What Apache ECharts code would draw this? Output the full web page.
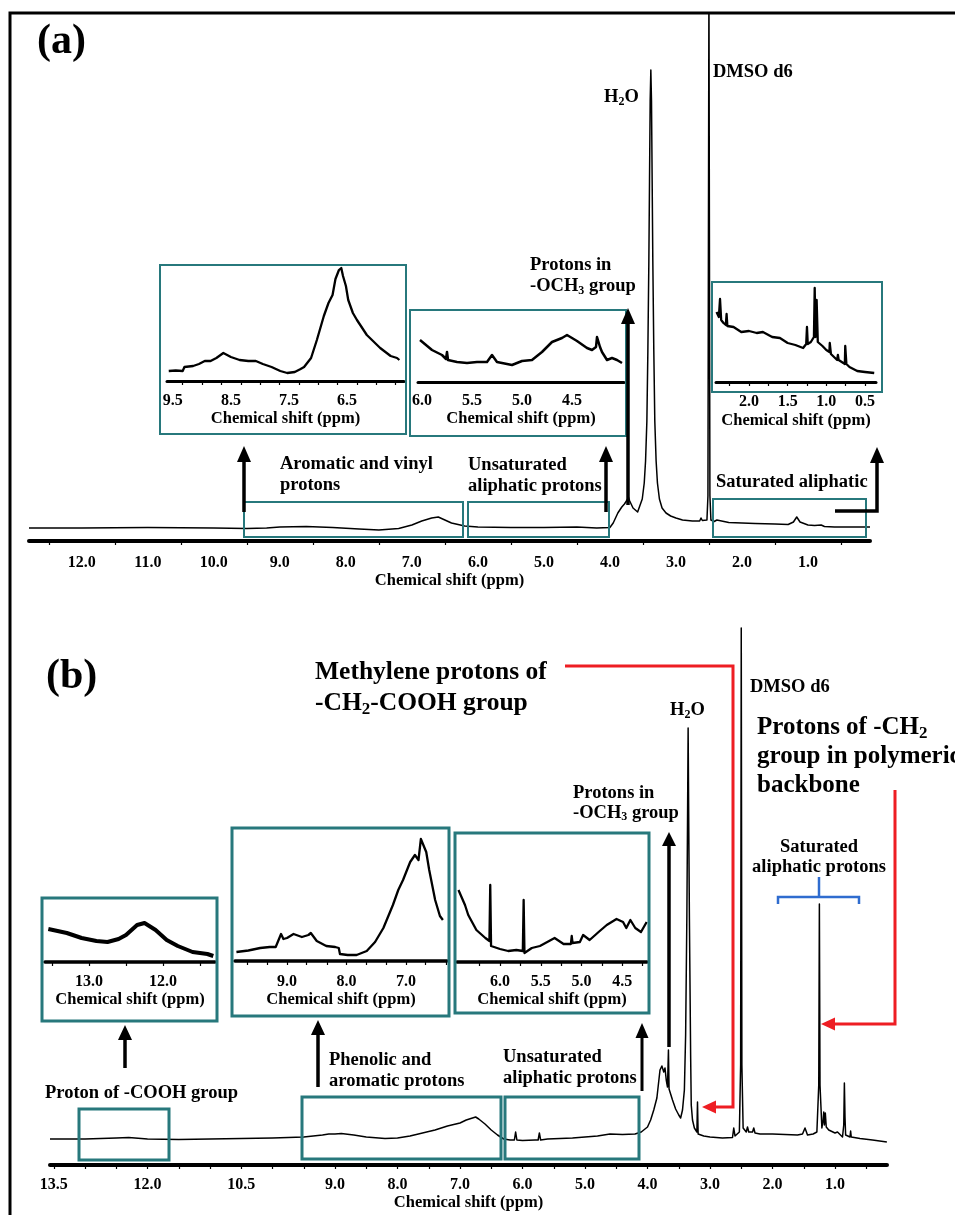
<!DOCTYPE html>
<html>
<head>
<meta charset="utf-8">
<script src="https://cdn.jsdelivr.net/npm/echarts@6/dist/echarts.min.js"></script>
<style>
html,body{margin:0;padding:0;background:#fff;}
#chart{width:955px;height:1215px;}
</style>
</head>
<body>
<div id="chart"></div>
<script>
var FONT = '"Liberation Serif","Times New Roman",serif';
var TEAL = '#27787c';
var RED = '#ee1d23';
var BLUE = '#2f6ccf';

// ---- (a) spectrum, [ppm, intensity] ----
var specA = [[12.8,13],[12.0,13],[11.0,13.5],[10.0,13],[9.5,12.5],[9.2,13],[9.0,14],[8.6,14.5],[8.2,13.5],[7.8,12],[7.5,11],[7.2,12.5],[7.0,16],[6.85,20],[6.7,23],[6.6,24],[6.5,21],[6.4,18],[6.2,15],[6.0,14],[5.5,13.5],[5.0,13.5],[4.5,14],[4.2,13],[4.0,13.5],[3.95,18],[3.88,28],[3.82,34],[3.78,37],[3.74,41],[3.72,44],[3.70,40],[3.65,33],[3.58,29],[3.55,30],[3.51,42],[3.48,58],[3.46,80],[3.44,120],[3.425,190],[3.41,280],[3.40,360],[3.39,440],[3.38,471],[3.37,440],[3.36,360],[3.35,280],[3.335,190],[3.32,120],[3.30,80],[3.28,58],[3.25,42],[3.21,33],[3.15,28],[3.08,25],[3.0,23],[2.9,21],[2.75,20],[2.64,20],[2.62,23],[2.60,20.5],[2.53,21],[2.515,45],[2.50,560],[2.485,45],[2.47,21],[2.42,19.5],[2.38,21],[2.35,19],[2.2,18.5],[2.0,18],[1.8,17.5],[1.5,17],[1.3,16.5],[1.22,19],[1.17,24],[1.15,22],[1.12,19],[1.0,16],[0.9,15.5],[0.8,16],[0.75,14.5],[0.6,14],[0.4,14],[0.06,14]];
var insetA1 = [[9.57,10],[9.45,10.5],[9.33,10],[9.3,14],[9.15,15],[9.05,17],[8.95,20],[8.85,20],[8.75,23],[8.63,28],[8.5,24],[8.35,21],[8.2,20],[8.07,20],[7.95,17],[7.8,14],[7.65,10],[7.53,8],[7.4,9],[7.3,12],[7.24,14],[7.12,23],[7.02,41],[6.9,65],[6.82,78],[6.75,86],[6.7,102],[6.64,111],[6.6,113],[6.57,105],[6.52,95],[6.48,81],[6.4,68],[6.33,61],[6.16,46],[5.93,33],[5.75,25],[5.64,23],[5.6,21]];
var insetA2 = [[6.02,42],[5.9,32],[5.8,27],[5.76,23],[5.75,30],[5.74,22],[5.65,20],[5.55,19],[5.45,20],[5.35,20],[5.3,27],[5.25,20],[5.2,19],[5.1,17],[5.0,21],[4.9,22],[4.8,30],[4.7,40],[4.6,44],[4.55,47],[4.45,41],[4.35,34],[4.3,32],[4.26,35],[4.25,45],[4.22,35],[4.2,30],[4.15,22],[4.1,24],[4.05,22],[4.0,19]];
var insetA3 = [[2.42,70],[2.39,65],[2.375,83],[2.36,62],[2.33,59],[2.3,57],[2.29,68],[2.28,56],[2.2,55],[2.1,50],[2.0,51],[1.9,49],[1.82,50],[1.8,49],[1.7,45],[1.6,44],[1.5,39],[1.4,37],[1.3,34],[1.26,38],[1.25,55],[1.24,38],[1.2,40],[1.16,45],[1.15,94],[1.14,45],[1.125,82],[1.11,40],[1.05,36],[1.0,32],[0.96,30],[0.955,39],[0.94,28],[0.9,25],[0.86,22],[0.85,27],[0.84,22],[0.8,20],[0.76,18],[0.755,36],[0.74,18],[0.7,15],[0.6,11],[0.5,10],[0.38,9]];

// ---- (b) spectrum ----
var specB = [[13.56,26],[13.0,26],[12.5,27],[12.3,27.5],[12.0,26],[11.5,25.5],[11.0,26],[10.5,26.5],[10.0,27],[9.5,28],[9.2,30],[9.1,31],[9.0,31],[8.9,31.5],[8.7,30],[8.5,28],[8.2,26.5],[8.0,27],[7.8,29],[7.6,32],[7.4,35],[7.2,39],[7.0,42],[6.9,45],[6.8,47],[6.75,48],[6.7,46],[6.6,41],[6.5,35],[6.4,30],[6.3,26],[6.2,25],[6.13,25],[6.11,33],[6.09,25],[6.0,24.5],[5.8,25],[5.75,25],[5.73,32],[5.71,25],[5.6,26],[5.4,26.5],[5.2,27],[5.0,28],[4.8,29],[4.6,31],[4.4,30.5],[4.2,31],[4.1,33],[4.0,38],[3.95,45],[3.9,55],[3.85,67],[3.8,95],[3.77,99],[3.74,93],[3.72,97],[3.70,85],[3.68,78],[3.665,115],[3.655,76],[3.6,65],[3.55,56],[3.5,50],[3.47,47],[3.44,55],[3.41,75],[3.39,130],[3.37,250],[3.36,340],[3.35,437],[3.34,340],[3.33,250],[3.31,110],[3.30,60],[3.28,45],[3.25,37],[3.21,33],[3.20,63],[3.19,31],[3.1,29],[3.0,28],[2.8,27],[2.64,27.5],[2.62,37],[2.60,29],[2.53,33],[2.51,100],[2.50,537],[2.49,100],[2.47,37],[2.42,33],[2.40,38],[2.38,33],[2.32,33],[2.30,37],[2.28,32],[2.2,31],[2.0,31],[1.8,30.5],[1.6,30],[1.52,31],[1.48,37],[1.44,30],[1.35,31],[1.29,33],[1.26,80],[1.25,261],[1.24,80],[1.21,37],[1.19,45],[1.18,53],[1.17,40],[1.155,52],[1.14,38],[1.1,35],[1.0,32],[0.96,33],[0.95,35],[0.94,31],[0.88,28],[0.86,40],[0.85,82],[0.84,48],[0.83,30],[0.8,28],[0.76,28],[0.75,34],[0.74,28],[0.6,26.5],[0.4,25],[0.17,23]];
var insetB1 = [[13.55,33],[13.3,29],[13.1,24],[12.9,21],[12.75,20],[12.6,23],[12.5,27],[12.35,37],[12.25,39],[12.1,32],[11.95,22],[11.8,16],[11.6,10],[11.4,8],[11.32,6]];
var insetB2 = [[9.85,9],[9.65,10.5],[9.45,13],[9.29,14],[9.19,14],[9.1,27],[9.06,22],[9.0,23],[8.89,27],[8.75,24],[8.64,26],[8.6,28],[8.5,20],[8.34,15],[8.19,14],[8.13,13],[8.11,7],[7.98,6],[7.83,6],[7.66,10],[7.52,19],[7.38,33],[7.22,56],[7.13,71],[7.05,81],[6.93,99],[6.85,106],[6.79,101],[6.75,122],[6.66,109],[6.61,91],[6.51,61],[6.43,45],[6.38,41]];
var insetB3 = [[6.51,72],[6.43,57],[6.39,47],[6.29,32],[6.18,24],[6.13,21],[6.12,77],[6.11,16],[6.0,13],[5.9,11],[5.8,12],[5.72,11],[5.71,62],[5.70,9],[5.61,14],[5.51,16],[5.33,24],[5.22,18],[5.13,18],[5.12,26],[5.11,19],[5.02,20],[4.98,27],[4.9,22],[4.79,30],[4.69,37],[4.57,43],[4.49,40],[4.45,34],[4.40,42],[4.34,34],[4.27,30],[4.2,40]];

// ---- tick labels / tick marks ----
var labA = [12,11,10,9,8,7,6,5,4,3,2,1];
var tickA = [12.5,11.5,10.5,9.5,8.5,7.5,6.5,5.5,4.5,3.5,2.5,1.5,0.5];
var labA1 = [9.5,8.5,7.5,6.5];
var tickA1 = [9.33,9,8.67,8.33,8,7.67,7.33,7,6.67,6.33,6,5.67];
var labA2 = [6.0,5.5,5.0,4.5];
var labA3 = [2.0,1.5,1.0,0.5];
var tickA3 = [2.25,2,1.75,1.5,1.25,1,0.75,0.5];
var labB = [13.5,12,10.5,9,8,7,6,5,4,3,2,1];
var tickB = [13.5,13,12.5,12,11.5,11,10.5,10,9.5,9,8.5,8,7.5,7,6.5,6,5.5,5,4.5,4,3.5,3,2.5,2,1.5,1,0.5];
var labB1 = [13,12];
var tickB1 = [13.5,13,12.5,12,11.5];
var labB2 = [9,8,7];
var tickB2 = [9.67,9.33,9,8.67,8.33,8,7.67,7.33,7,6.67,6.33];
var labB3 = [6.0,5.5,5.0,4.5];
var tickB3 = [6.25,6,5.75,5.5,5.25,5,4.75,4.5,4.25];

var panels = [
  {g:[29,13,841,528], min:0.06, max:12.8, data:specA, lab:labA, tick:tickA, aw:4, lw:1.5, m:14, gap:29},
  {g:[167,265,237,116], min:5.52, max:9.6, data:insetA1, lab:labA1, tick:tickA1, aw:3, lw:2.3, m:12, gap:29},
  {g:[418,310,206,72], min:3.98, max:6.04, data:insetA2, lab:labA2, tick:[], aw:3, lw:2.5, m:11, gap:28},
  {g:[716,282,160,100], min:0.357, max:2.427, data:insetA3, lab:labA3, tick:tickA3, aw:3, lw:2.3, m:12, gap:30},
  {g:[50,620,837,545], min:0.168, max:13.56, data:specB, lab:labB, tick:tickB, aw:4, lw:1.5, m:12, gap:27},
  {g:[45,898,170,64], min:11.297, max:13.595, data:insetB1, lab:labB1, tick:tickB1, aw:3.5, lw:4, m:12, gap:28},
  {g:[235,828,212,133], min:6.311, max:9.874, data:insetB2, lab:labB2, tick:tickB2, aw:3.5, lw:2.3, m:13, gap:29},
  {g:[457,833,190,129], min:4.196, max:6.528, data:insetB3, lab:labB3, tick:tickB3, aw:3.5, lw:2.3, m:12, gap:28}
];

function arrow(pts, color, w, hl, hw) {
  var n = pts.length, a = pts[n-2], b = pts[n-1];
  var dx = b[0]-a[0], dy = b[1]-a[1], len = Math.sqrt(dx*dx+dy*dy);
  var ux = dx/len, uy = dy/len;
  var base = [b[0]-ux*hl, b[1]-uy*hl];
  var shaft = pts.slice(0, n-1).concat([base]);
  return [
    {type:'polyline', z:10, shape:{points:shaft}, style:{stroke:color, lineWidth:w, fill:'none'}},
    {type:'polygon', z:10, shape:{points:[b,[base[0]-uy*hw/2, base[1]+ux*hw/2],[base[0]+uy*hw/2, base[1]-ux*hw/2]]}, style:{fill:color}}
  ];
}
function box(x, y, w, h, lw) {
  return {type:'rect', z:9, shape:{x:x, y:y, width:w, height:h}, style:{stroke:TEAL, fill:'none', lineWidth:lw}};
}
function label(x, yc, text, size, lh, align) {
  lh = lh || Math.round(size*1.15);
  return {type:'text', z:11, style:{x:x, y:yc-lh/2, text:text, fontFamily:FONT, fontWeight:'bold', fontSize:size, lineHeight:lh, fill:'#000', align:align||'left', verticalAlign:'top',
    rich:{s:{fontFamily:FONT, fontWeight:'bold', fontSize:Math.round(size*0.66), verticalAlign:'bottom', fill:'#000'}}}};
}

var graphics = [
  {type:'polyline', z:12, shape:{points:[[10,1215],[10,13],[955,13]]}, style:{stroke:'#000', lineWidth:3, fill:'none'}},
  // inset frames (a)
  box(160,265,246,169,2), box(410,310,216,126,2), box(712,282,170,110,2),
  // region boxes (a)
  box(244,502,219,35,2), box(468,502,141,35,2), box(713,499,153,38,2),
  // inset frames (b)
  box(42,898,175,123,3), box(232,828,217,188,3), box(455,833,194,180,3),
  // region boxes (b)
  box(79,1109,90,51,3), box(302,1097,199,62,3), box(505,1097,134,62,3),
  // bracket
  {type:'polyline', z:10, shape:{points:[[778,904],[778,897],[859,897],[859,904]]}, style:{stroke:BLUE, lineWidth:2.5, fill:'none'}},
  {type:'polyline', z:10, shape:{points:[[819,897],[819,877]]}, style:{stroke:BLUE, lineWidth:2.5, fill:'none'}},
  // labels (a)
  label(37,42,'(a)',42,46),
  label(604,97,'H{s|2}O',18.5),
  label(713,72,'DMSO d6',18.5),
  label(530,265,'Protons in\n-OCH{s|3} group',18.5,21),
  label(280,464,'Aromatic and vinyl\nprotons',18.5,21),
  label(468,465,'Unsaturated\naliphatic protons',18.5,21),
  label(716,482,'Saturated aliphatic',18.5),
  // labels (b)
  label(46,677,'(b)',42,46),
  label(315,672,'Methylene protons of\n-CH{s|2}-COOH group',25.5,31),
  label(750,687,'DMSO d6',18.5),
  label(670,710,'H{s|2}O',18.5),
  label(757,728,'Protons of -CH{s|2}\ngroup in polymeric\nbackbone',25,29),
  label(573,793,'Protons in\n-OCH{s|3} group',18.5,20),
  label(819,847,'Saturated\naliphatic protons',18.5,20,'center'),
  label(45,1093,'Proton of -COOH group',18.5),
  label(329,1060,'Phenolic and\naromatic protons',18.5,21),
  label(503,1057,'Unsaturated\naliphatic protons',18.5,21)
];
graphics = graphics
  .concat(arrow([[244,512],[244,446]], '#000', 3.5, 16, 14))
  .concat(arrow([[606,512],[606,446]], '#000', 3.5, 16, 14))
  .concat(arrow([[628,505],[628,308]], '#000', 3.5, 16, 14))
  .concat(arrow([[835,511],[877,511],[877,447]], '#000', 3.5, 16, 14))
  .concat(arrow([[125,1068],[125,1025]], '#000', 3.5, 15, 14))
  .concat(arrow([[318,1087],[318,1020]], '#000', 3.5, 15, 14))
  .concat(arrow([[642,1091],[642,1023]], '#000', 3, 15, 13))
  .concat(arrow([[669,1047],[669,832]], '#000', 3.5, 14, 14))
  .concat(arrow([[565,666],[733,666],[733,1107],[702,1107]], RED, 3, 14, 13))
  .concat(arrow([[895,790],[895,1024],[821,1024]], RED, 3, 14, 13));

var chart = echarts.init(document.getElementById('chart'), null, {renderer:'canvas'});
chart.setOption({
  backgroundColor:'#fff',
  animation:false,
  grid: panels.map(function(p){ return {left:p.g[0], top:p.g[1], width:p.g[2], height:p.g[3], containLabel:false}; }),
  xAxis: panels.map(function(p,i){
    return {
      type:'value', gridIndex:i, inverse:true, min:p.min, max:p.max,
      axisLine:{onZero:false, lineStyle:{color:'#000', width:p.aw}},
      axisTick:{show:p.tick.length>0, customValues:p.tick, length:4, lineStyle:{color:'#000', width:1.2}},
      axisLabel:{customValues:p.lab, margin:p.m, color:'#000', fontFamily:FONT, fontWeight:'bold', fontSize:16,
        formatter:function(v){ return v.toFixed(1); }},
      splitLine:{show:false},
      name:'Chemical shift (ppm)', nameLocation:'middle', nameGap:p.gap,
      nameTextStyle:{color:'#000', fontFamily:FONT, fontWeight:'bold', fontSize:16.5}
    };
  }),
  yAxis: panels.map(function(p,i){
    return {type:'value', gridIndex:i, min:0, max:p.g[3], show:false};
  }),
  series: panels.map(function(p,i){
    return {type:'line', xAxisIndex:i, yAxisIndex:i, data:p.data, symbol:'none', silent:true,
      lineStyle:{color:'#000', width:p.lw, join:'round'}, z:5};
  }),
  graphic: graphics
});
</script>
</body>
</html>
